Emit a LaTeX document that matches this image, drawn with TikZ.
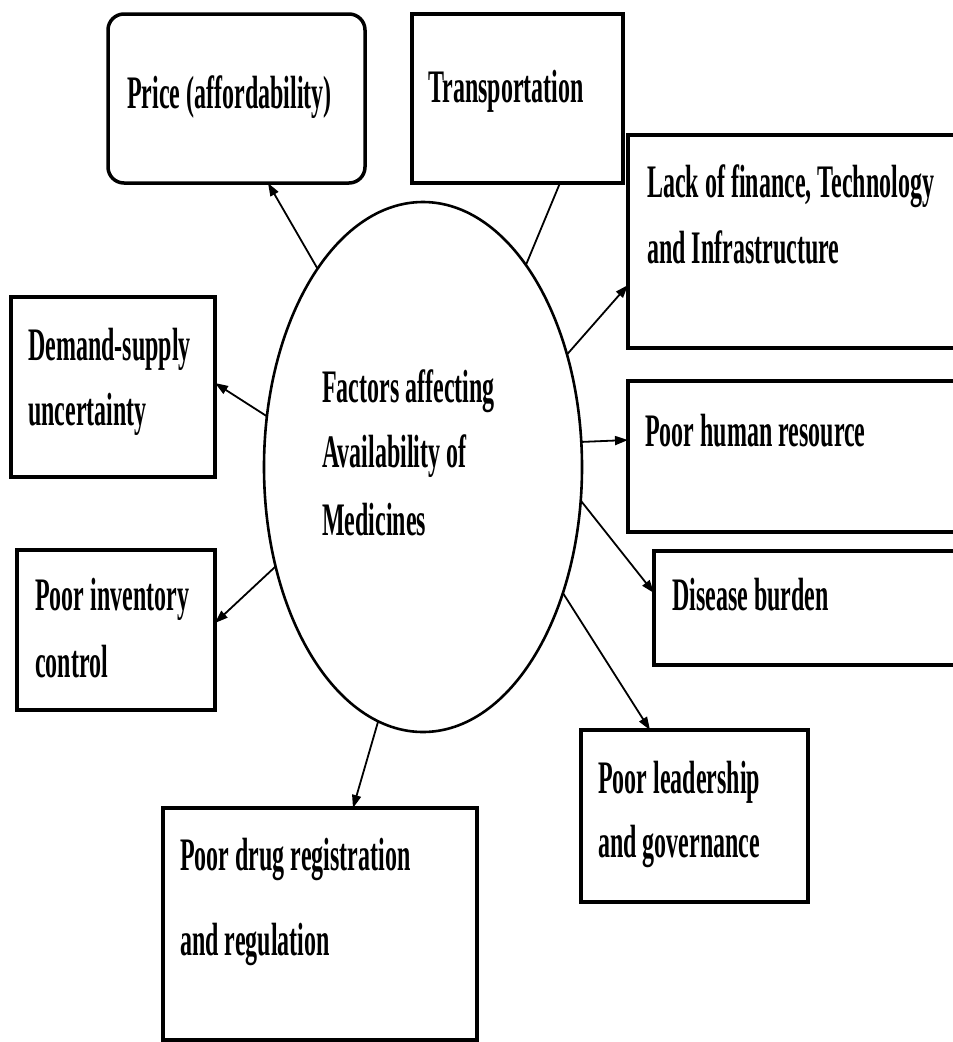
\documentclass[tikz,border=0pt]{standalone}
\usepackage{fontspec}
\setmainfont{Liberation Serif}
\usepackage{graphicx}
\usetikzlibrary{shapes.geometric,arrows.meta,calc}
\newcommand\tx[1]{\scalebox{0.515}[1]{#1}}
\begin{document}
\begin{tikzpicture}[x=1pt,y=-1pt,
  box/.style={draw, line width=3.5pt, rectangle, inner sep=0pt, outer sep=0pt},
  lbl/.style={anchor=base west, inner sep=0pt, font=\fontsize{46.6}{56}\selectfont\bfseries},
  con/.style={line width=1.8pt, -{Triangle[length=13pt,width=9pt]}},
  plain/.style={line width=1.8pt}]
\clip (0,0) rectangle (953,1042);
\fill[white] (0,0) rectangle (953,1042);
% boxes
\node[box, rounded corners=16pt, minimum width=257pt, minimum height=169pt] (price) at (236.5,98.5) {};
\node[box, minimum width=211pt, minimum height=169pt] (transport) at (517.5,98.5) {};
\node[box, minimum width=342pt, minimum height=213pt] (lack) at (799,241.5) {};
\node[box, minimum width=204pt, minimum height=180pt] (demand) at (113,387) {};
\node[box, minimum width=342pt, minimum height=151pt] (human) at (799,456.5) {};
\node[box, minimum width=316pt, minimum height=114pt] (disease) at (812,608) {};
\node[box, minimum width=198pt, minimum height=160pt] (inventory) at (116,630) {};
\node[box, minimum width=227pt, minimum height=172pt] (leader) at (694.5,816) {};
\node[box, minimum width=314pt, minimum height=232pt] (drug) at (320,924) {};
% central ellipse
\node[draw, ellipse, line width=2.6pt, minimum width=318pt, minimum height=530pt, inner sep=0pt, outer sep=0pt] (ell) at (423,467) {};
% texts
\node[lbl] (tprice) at (127,108) {\tx{Price (affordability)}};
\node[lbl] (ttrans) at (428,102) {\tx{Transportation}};
\node[lbl] (tlack1) at (647,197) {\tx{Lack of finance, Technology}};
\node[lbl] (tlack2) at (647,263) {\tx{and Infrastructure}};
\node[lbl] (tdem1) at (28,360) {\tx{Demand-supply}};
\node[lbl] (tdem2) at (28,425) {\tx{uncertainty}};
\node[lbl] (thum) at (645,446) {\tx{Poor human resource}};
\node[lbl] (tdis) at (672,610) {\tx{Disease burden}};
\node[lbl] (tinv1) at (35,610) {\tx{Poor inventory}};
\node[lbl] (tinv2) at (35,677) {\tx{control}};
\node[lbl] (tlead1) at (598,793) {\tx{Poor leadership}};
\node[lbl] (tlead2) at (598,857) {\tx{and governance}};
\node[lbl] (tdrug1) at (180,870) {\tx{Poor drug registration}};
\node[lbl] (tdrug2) at (180,955) {\tx{and regulation}};
\node[lbl] (tc1) at (322,402) {\tx{Factors affecting}};
\node[lbl] (tc2) at (322,467) {\tx{Availability of}};
\node[lbl] (tc3) at (322,535) {\tx{Medicines}};
% connectors
\draw[con] (ell.118.6) -- ([xshift=160pt]price.south west);
\draw[plain] (ell.63.1) -- ([xshift=148pt]transport.south west);
\draw[con] (ell.38.6) -- ([yshift=63pt]lack.south west);
\draw[con] (ell.9.6) -- ([yshift=92pt]human.south west);
\draw[con] (ell.-12.8) -- ([yshift=72pt]disease.south west);
\draw[con] (ell.-42.5) -- ([xshift=69pt]leader.north west);
\draw[con] (ell.260.6) -- ([xshift=190pt]drug.north west);
\draw[con] (ell.214.8) -- ([yshift=87pt]inventory.south east);
\draw[con] (ell.162.2) -- ([yshift=94pt]demand.south east);
\end{tikzpicture}
\end{document}
